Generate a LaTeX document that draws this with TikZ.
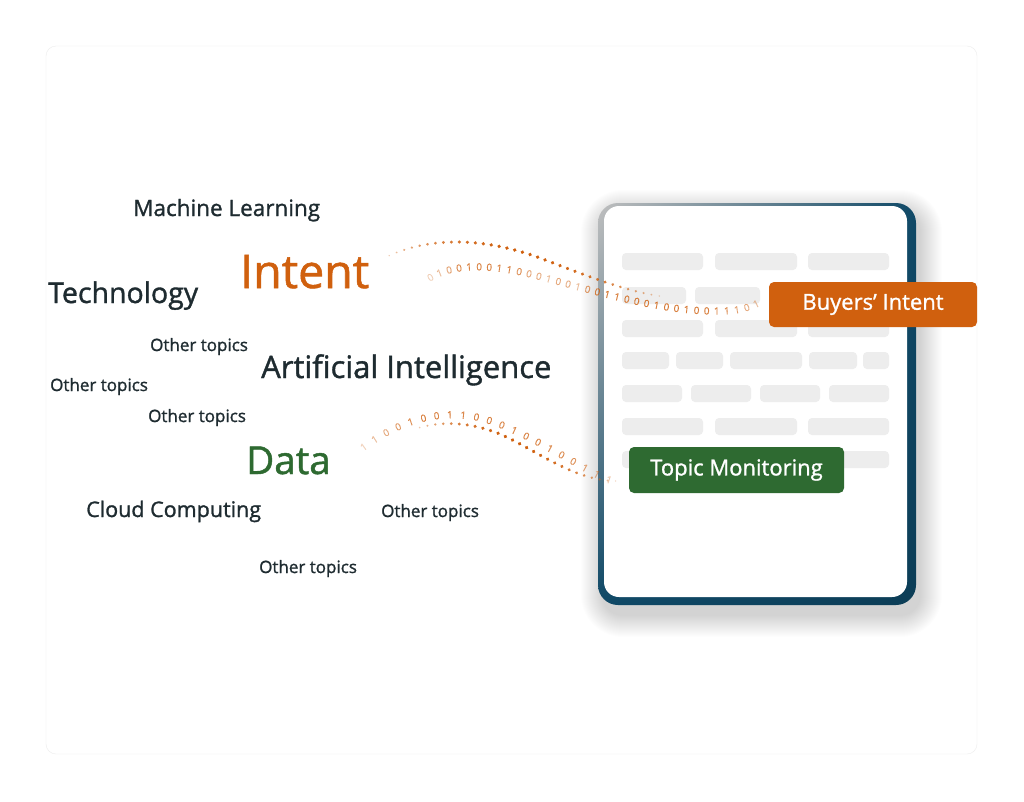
\documentclass[tikz,border=0pt]{standalone}
\usepackage{fontspec}
\setmainfont{Open Sans}[FakeBold=1.2]
\usetikzlibrary{positioning,decorations.markings,shadings}
\definecolor{inkdark}{RGB}{30,43,48}
\definecolor{intentorange}{RGB}{208,96,14}
\definecolor{datagreen}{RGB}{46,106,49}
\definecolor{tabletblue}{RGB}{14,72,102}
\definecolor{bargray}{RGB}{237,237,237}
\definecolor{cardline}{RGB}{236,236,236}
\newcommand*{\FS}[1]{\fontsize{#1}{#1}\selectfont}
\newcommand*{\GBar}[3]{\fill[bargray, rounded corners=4pt] (#1,#3) rectangle (#2,#3 + 17);}
\newcommand*{\IntentDots}{(in-a) .. controls (425,237) and (480,236) .. (540,258)
  .. controls (590,277) and (630,293) .. (in-b)}
\newcommand*{\IntentBits}{(in-c) .. controls (445,265) and (480,262) .. (530,274)
  .. controls (600,292) and (660,312) .. (720,311) .. controls (740,311) and (752,307) .. (in-d)}
\newcommand*{\DataDots}{(da-a) .. controls (440,420) and (470,422) .. (500,434)
  .. controls (540,452) and (575,482) .. (da-b)}
\newcommand*{\DataBits}{(da-c) .. controls (390,425) and (430,410) .. (470,416)
  .. controls (505,420) and (560,455) .. (600,476) .. controls (608,480) and (615,482) .. (da-d)}
\tikzset{
  word/.style={anchor=base west, inner sep=0pt, text=inkdark},
  bit/.style={inner sep=0pt, transform shape, text=intentorange, font=\FS{10}},
  tagbox/.style={rounded corners=5pt, inner sep=0pt, minimum height=45pt, text=white, font=\FS{22}},
  dotline/.style={decoration={markings, mark=between positions 0 and 1 step 8pt with {%
    \pgfmathsetmacro\t{\pgfkeysvalueof{/pgf/decoration/mark info/distance from start}/\pgfdecoratedpathlength}%
    \pgfmathsetmacro\f{sqrt(max(sin(180*\t),0))}%
    \pgfmathsetmacro\r{0.4+1.5*\f}%
    \fill[intentorange, opacity=\f] (0,0) circle (\r pt);}}, decorate}
}

\begin{document}
\begin{tikzpicture}[x=1pt, y=-1pt]
    \useasboundingbox (0,0) rectangle (1024,801);
    \fill[white] (0,0) rectangle (1024,801);
    \draw[cardline, rounded corners=10pt] (46,46) rectangle (977,754);

    % topics
    \draw (133,216) node[word, font=\FS{22.5}] (ml) {Machine Learning};
    \draw (240,288) node[word, font=\FS{46.5}, text=intentorange] (intent) {Intent};
    \draw (48,303) node[word, font=\FS{28.5}] (tech) {Technology};
    \draw (150,351) node[word, font=\FS{17}] (ot1) {Other topics};
    \draw (261,378) node[word, font=\FS{31}] (ai) {Artificial Intelligence};
    \draw (50,391) node[word, font=\FS{17}] (ot2) {Other topics};
    \draw (148,422) node[word, font=\FS{17}] (ot3) {Other topics};
    \draw (246,474) node[word, font=\FS{38.5}, text=datagreen] (data) {Data};
    \draw (86,517) node[word, font=\FS{21.5}] (cloud) {Cloud Computing};
    \draw (381,517) node[word, font=\FS{17}] (ot4) {Other topics};
    \draw (259,573) node[word, font=\FS{17}] (ot5) {Other topics};

    % tablet
    \foreach \s in {1,...,22}
      \fill[black, opacity=0.006, rounded corners=20pt + \s pt]
        (598 - \s + 5, 203 - \s + 9) rectangle (916 + \s + 4, 605 + \s + 10);
    \shade[rounded corners=20pt, upper left=black!25, upper right=tabletblue,
      lower left=tabletblue, lower right=tabletblue!85!black] (598,203) rectangle (916,605);
    \fill[white, rounded corners=15pt] (604,206) rectangle (907,597);
    \GBar{622}{703}{253} \GBar{715}{797}{253} \GBar{808}{889}{253}
    \GBar{622}{686}{287} \GBar{695}{760}{287} \GBar{772}{860}{287}
    \GBar{622}{703}{320} \GBar{715}{797}{320} \GBar{808}{889}{320}
    \GBar{622}{669}{352} \GBar{676}{723}{352} \GBar{730}{802}{352} \GBar{809}{857}{352} \GBar{863}{889}{352}
    \GBar{622}{682}{385} \GBar{691}{751}{385} \GBar{760}{820}{385} \GBar{829}{889}{385}
    \GBar{622}{703}{418} \GBar{715}{797}{418} \GBar{808}{889}{418}
    \GBar{622}{703}{451} \GBar{715}{797}{451} \GBar{808}{889}{451}

    % curve ends
    \coordinate (in-a) at (382,259);
    \coordinate (in-b) at (667,297);
    \coordinate (in-c) at (422,283);
    \coordinate (in-d) at (765,299);
    \coordinate (da-a) at (412,430);
    \coordinate (da-b) at (620,481);
    \coordinate (da-c) at (353,455);
    \coordinate (da-d) at (622,482);

    \path[dotline] \IntentDots;
    \path[dotline] \DataDots;
    \foreach \d/\o [count=\i, evaluate=\i as \p using \i/35] in {0/.2,1/.3,0/.45,0/.6,1/.65,0/.65,0/.65,
      1/.65,1/.65,0/.55,0/.45,0/.4,1/.3,0/.4,0/.4,1/.3,0/.5,0/.65,1/.7,1/.7,0/.7,0/.7,0/.7,1/.7,
      0/.7,0/.7,1/.7,0/.7,0/.7,1/.65,1/.6,1/.45,0/.4,1/.3}
      \path[decoration={markings, mark=at position \p with {\node[bit, opacity=\o] {\d};}}, decorate]
        \IntentBits;
    \foreach \d/\o [count=\i, evaluate=\i as \p using \i/22] in {1/.2,1/.3,0/.4,0/.5,1/.6,0/.65,
      0/.65,1/.65,1/.65,0/.65,0/.65,0/.65,1/.65,0/.65,0/.65,1/.6,0/.6,0/.55,1/.45,1/.35,1/.25}
      \path[decoration={markings, mark=at position \p with {\node[bit, opacity=\o] {\d};}}, decorate]
        \DataBits;

    % labels on the tablet
    \draw (873,304.5) node[tagbox, fill=intentorange, minimum width=208pt] (buyers) {Buyers’ Intent};
    \draw (736.5,470) node[tagbox, fill=datagreen, minimum width=215pt, minimum height=46pt] (topic) {Topic Monitoring};
  \end{tikzpicture}
\end{document}
